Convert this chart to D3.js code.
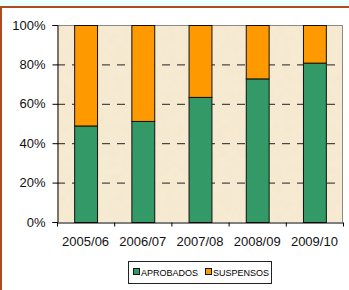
<!DOCTYPE html>
<html>
<head>
<meta charset="utf-8">
<script src="https://cdn.jsdelivr.net/npm/d3@7"></script>
<style>
html,body{margin:0;padding:0;background:#fff;}
svg{display:block;}
</style>
</head>
<body>
<svg id="chart" width="349" height="290"></svg>
<script>
const categories = ["2005/06","2006/07","2007/08","2008/09","2009/10"];
const aprobados = [49, 51.3, 63.5, 72.9, 80.9];
const suspensos = [51, 48.7, 36.5, 27.1, 19.1];
const yTicks = [0, 20, 40, 60, 80, 100];
const seriesNames = ["APROBADOS", "SUSPENSOS"];
const seriesColors = ["#339966", "#FF9900"];

const svg = d3.select("#chart");
const W = 349, H = 290;

// top band and frame
svg.append("rect").attr("x",0).attr("y",0).attr("width",W).attr("height",7).attr("fill","#ecfeff");
svg.append("rect").attr("x",0).attr("y",7).attr("width",W).attr("height",H-7).attr("fill","#ffffff");
svg.append("rect").attr("x",0).attr("y",6).attr("width",W).attr("height",2).attr("fill","#b04a1e");
svg.append("rect").attr("x",0).attr("y",6).attr("width",2).attr("height",H-6).attr("fill","#b04a1e");

const plot = {left:57, top:25, right:343, bottom:222};

const defs = svg.append("defs");
const f = defs.append("filter").attr("id","paper").attr("x",0).attr("y",0).attr("width","100%").attr("height","100%");
f.append("feTurbulence").attr("type","fractalNoise").attr("baseFrequency","0.12").attr("numOctaves",3).attr("seed",4).attr("result","noise");
f.append("feColorMatrix").attr("in","noise").attr("type","matrix")
  .attr("values","0 0 0 0 0.85  0 0 0 0 0.72  0 0 0 0 0.50  0 0 0 0.35 -0.12").attr("result","tint");
f.append("feComposite").attr("in","tint").attr("in2","SourceGraphic").attr("operator","over");

const x = d3.scaleBand().domain(categories).range([plot.left, plot.right]).paddingInner(0.6).paddingOuter(0.3);
const xOuter = d3.scaleBand().domain(categories).range([plot.left, plot.right]);
const y = d3.scaleLinear().domain([0,100]).range([plot.bottom, plot.top]);

// plot area background
svg.append("rect").attr("x",plot.left).attr("y",plot.top)
  .attr("width",plot.right-plot.left).attr("height",plot.bottom-plot.top)
  .attr("fill","#f6ead2").attr("filter","url(#paper)");

// gridlines
svg.append("g").selectAll("line").data(yTicks.filter(d=>d>0 && d<100)).join("line")
  .attr("x1",plot.left).attr("x2",plot.right)
  .attr("y1",d=>y(d)+0.5).attr("y2",d=>y(d)+0.5)
  .attr("stroke","#222").attr("stroke-width",1).attr("stroke-dasharray","8,7");

// plot border (top/right)
svg.append("path").attr("d",`M${plot.left},${plot.top+0.5}H${plot.right-0.5}V${plot.bottom}`)
  .attr("fill","none").attr("stroke","#8a8a8a").attr("stroke-width",1);

// bars
const stacks = categories.map((c,i)=>({c, a:aprobados[i], s:suspensos[i]}));
const g = svg.append("g");
g.selectAll("rect.a").data(stacks).join("rect").attr("class","a")
  .attr("x",d=>x(d.c)+0.5).attr("width",x.bandwidth())
  .attr("y",d=>y(d.a)+0.5).attr("height",d=>y(0)-y(d.a))
  .attr("fill",seriesColors[0]).attr("stroke","#111").attr("stroke-width",1);
g.selectAll("rect.s").data(stacks).join("rect").attr("class","s")
  .attr("x",d=>x(d.c)+0.5).attr("width",x.bandwidth())
  .attr("y",d=>y(d.a+d.s)+0.5).attr("height",d=>y(d.a)-y(d.a+d.s))
  .attr("fill",seriesColors[1]).attr("stroke","#111").attr("stroke-width",1);

// y axis
const yAxis = d3.axisLeft(y).tickValues(yTicks).tickFormat(d=>d+"%").tickSize(5).tickPadding(7);
const ya = svg.append("g").attr("transform",`translate(${plot.left+0.5},0)`).call(yAxis);
ya.select(".domain").attr("stroke","#000");
ya.selectAll(".tick line").attr("stroke","#000");
ya.selectAll("text").attr("font-family","Liberation Sans, Arial, sans-serif").attr("font-size",13).attr("fill","#111");

// x axis
const xAxis = d3.axisBottom(xOuter).tickSize(0).tickPadding(14);
const xa = svg.append("g").attr("transform",`translate(0,${plot.bottom+0.5})`).call(xAxis);
xa.select(".domain").attr("stroke","#000");
xa.selectAll("text").attr("font-family","Liberation Sans, Arial, sans-serif").attr("font-size",13).attr("fill","#111");
// boundary ticks
xa.selectAll("line.bnd").data(categories).join("line").attr("class","bnd")
  .attr("x1",d=>xOuter(d)+xOuter.bandwidth()+0.5).attr("x2",d=>xOuter(d)+xOuter.bandwidth()+0.5)
  .attr("y1",0).attr("y2",4).attr("stroke","#000");
xa.append("line").attr("x1",plot.left+0.5).attr("x2",plot.left+0.5).attr("y1",0).attr("y2",4).attr("stroke","#000");

// legend
const lg = svg.append("g");
lg.append("rect").attr("x",128.5).attr("y",261.5).attr("width",143).attr("height",22)
  .attr("fill","#fff").attr("stroke","#222").attr("stroke-width",1);
const legendX = [133, 205];
seriesNames.forEach((n,i)=>{
  lg.append("rect").attr("x",legendX[i]+0.5).attr("y",268.5).attr("width",6).attr("height",6)
    .attr("fill",seriesColors[i]).attr("stroke","#111");
  lg.append("text").attr("x",legendX[i]+8).attr("y",275.5).text(n)
    .attr("font-family","Liberation Sans, Arial, sans-serif").attr("font-size",9).attr("fill","#000");
});
</script>
</body>
</html>
